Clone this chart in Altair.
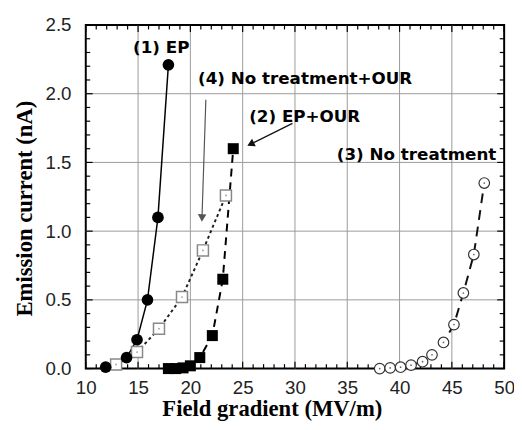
import altair as alt
import pandas as pd

# ---- data ----
ep_x = [11.9, 13.9, 14.9, 15.9, 16.9, 17.9]
ep_y = [0.01, 0.08, 0.21, 0.50, 1.10, 2.21]

epour_x = [17.9, 18.6, 19.3, 20.0, 20.9, 22.1, 23.1, 24.1]
epour_y = [0.0, 0.0, 0.005, 0.02, 0.08, 0.24, 0.65, 1.60]

nt_x = [38.1, 39.1, 40.1, 41.1, 42.2, 43.1, 44.2, 45.2, 46.1, 47.1, 48.1]
nt_y = [0.0, 0.005, 0.01, 0.025, 0.05, 0.10, 0.19, 0.32, 0.55, 0.83, 1.35]

ntour_x = [12.9, 14.9, 17.0, 19.2, 21.2, 23.4]
ntour_y = [0.03, 0.12, 0.29, 0.52, 0.86, 1.26]

x_major = [10, 15, 20, 25, 30, 35, 40, 45, 50]
y_major = [0.0, 0.5, 1.0, 1.5, 2.0, 2.5]
x_grid = [15, 20, 25, 30, 35, 40, 45]
y_grid = [0.5, 1.0, 1.5, 2.0]
x_minor = list(range(10, 51))
y_minor = [i / 10 for i in range(26)]

ann_text = ["(1) EP", "(4) No treatment+OUR", "(2) EP+OUR", "(3) No treatment"]
ann_x = [14.52, 20.73, 25.62, 34.0]
ann_y = [2.33, 2.11, 1.83, 1.555]

# arrows (start -> head) in data units
arr_x = [21.48, 29.76]
arr_y = [1.956, 1.784]
arr_x2 = [21.11, 25.76]
arr_y2 = [1.096, 1.633]
arr_color = ["#555555", "#111111"]
arr_shape = ["triangle-down", "triangle-left"]
arr_angle = [2, 334]

W, H = 425, 349

xscale = alt.Scale(domain=[10, 50], nice=False, zero=False)
yscale = alt.Scale(domain=[0, 2.5], nice=False, zero=False)

xaxis = alt.Axis(
    values=x_major, format="d", ticks=False, tickSize=0, domain=False,
    grid=False,
    labelFont="Liberation Sans", labelFontSize=19, labelColor="#222",
    labelPadding=10, labelFlush=False, labelOverlap=False,
    title="Field gradient (MV/m)", titleFont="Liberation Serif",
    titleFontWeight="bold", titleFontSize=23, titleColor="#000",
    titleX=189, titleY=48, titleAlign="center", titleBaseline="alphabetic",
)
yaxis = alt.Axis(
    values=y_major, format=".1f", ticks=False, tickSize=0, domain=False,
    grid=False,
    labelFont="Liberation Sans", labelFontSize=19, labelColor="#222",
    labelPadding=15, labelFlush=False, labelOverlap=False,
    title="Emission current (nA)", titleFont="Liberation Serif",
    titleFontWeight="bold", titleFontSize=23, titleColor="#000",
    titleX=-55, titleY=186, titleAngle=270, titleAlign="center",
    titleBaseline="alphabetic",
)

X = alt.X("x:Q", scale=xscale, axis=xaxis)
Y = alt.Y("y:Q", scale=yscale, axis=yaxis)

def df(xs, ys):
    return pd.DataFrame({"x": xs, "y": ys})

d_ep = df(ep_x, ep_y)
d_epour = df(epour_x, epour_y)
d_nt = df(nt_x, nt_y)
d_ntour = df(ntour_x, ntour_y)

# grid (thin light lines approximating the dotted grid)
gx = alt.Chart(pd.DataFrame({"x": x_grid})).mark_rule(
    color="#9a9a9a", strokeWidth=1
).encode(x=X, y=alt.value(0), y2=alt.value(H))
gy = alt.Chart(pd.DataFrame({"y": y_grid})).mark_rule(
    color="#9a9a9a", strokeWidth=1
).encode(y=Y, x=alt.value(0), x2=alt.value(W))

# lines
l_ep = alt.Chart(d_ep).mark_line(color="#000", strokeWidth=1.5).encode(x=X, y=Y)
l_ntour = alt.Chart(d_ntour).mark_line(color="#222", strokeWidth=2, strokeDash=[3, 3]).encode(x=X, y=Y)
l_epour = alt.Chart(d_epour).mark_line(color="#000", strokeWidth=2, strokeDash=[8, 6]).encode(x=X, y=Y)
l_nt = alt.Chart(d_nt).mark_line(color="#111", strokeWidth=2, strokeDash=[10, 7]).encode(x=X, y=Y)

# markers
p_ep = alt.Chart(d_ep).mark_point(shape="circle", filled=True, color="#000", size=140, opacity=1).encode(x=X, y=Y)
p_epour = alt.Chart(d_epour).mark_point(shape="square", filled=True, color="#000", size=125, opacity=1).encode(x=X, y=Y)
p_ntour = alt.Chart(d_ntour).mark_point(shape="square", fill="white", stroke="#888", strokeWidth=1.5, size=125, opacity=1, fillOpacity=1).encode(x=X, y=Y)
p_nt = alt.Chart(d_nt).mark_point(shape="circle", fill="white", stroke="#333", strokeWidth=1.2, size=115, opacity=1, fillOpacity=1).encode(x=X, y=Y)
dot_ntour = alt.Chart(d_ntour).mark_point(shape="circle", filled=True, color="#999", size=3, opacity=1).encode(x=X, y=Y)
dot_nt = alt.Chart(d_nt).mark_point(shape="circle", filled=True, color="#666", size=3, opacity=1).encode(x=X, y=Y)

# inward ticks on four sides
tx = pd.DataFrame({"x": x_minor, "major": [v % 5 == 0 for v in x_minor]})
ty = pd.DataFrame({"y": y_minor, "major": [round(v * 10) % 5 == 0 for v in y_minor]})

def xticks(major, length):
    d = tx[tx["major"] == major]
    b = alt.Chart(d).mark_rule(color="#000", strokeWidth=1.2).encode(x=X, y=alt.value(H), y2=alt.value(H - length))
    t = alt.Chart(d).mark_rule(color="#000", strokeWidth=1.2).encode(x=X, y=alt.value(0), y2=alt.value(length))
    return [b, t]

def yticks(major, length):
    d = ty[ty["major"] == major]
    l = alt.Chart(d).mark_rule(color="#000", strokeWidth=1.2).encode(y=Y, x=alt.value(0), x2=alt.value(length))
    r = alt.Chart(d).mark_rule(color="#000", strokeWidth=1.2).encode(y=Y, x=alt.value(W), x2=alt.value(W - length))
    return [l, r]

ticks = xticks(False, 4.5) + xticks(True, 7) + yticks(False, 4.5) + yticks(True, 7)

# annotations
d_ann = pd.DataFrame({"x": ann_x, "y": ann_y, "t": ann_text})
ann = alt.Chart(d_ann).mark_text(
    font="DejaVu Sans", fontWeight="bold", fontSize=17, align="left",
    baseline="middle", color="#000",
).encode(x=X, y=Y, text="t:N")

d_arr = pd.DataFrame({"x": arr_x, "y": arr_y, "x2": arr_x2, "y2": arr_y2,
                      "c": arr_color, "s": arr_shape, "a": arr_angle})
arr_line = alt.Chart(d_arr).mark_rule(strokeWidth=1.2).encode(
    x=X, y=Y, x2="x2:Q", y2="y2:Q", color=alt.Color("c:N", scale=None)
)
d_head = pd.DataFrame({"x": arr_x2, "y": arr_y2, "c": arr_color, "s": arr_shape, "a": arr_angle})
arr_head = alt.Chart(d_head).mark_point(filled=True, size=75, opacity=1).encode(
    x=X, y=Y, color=alt.Color("c:N", scale=None),
    shape=alt.Shape("s:N", scale=None), angle=alt.Angle("a:Q", scale=None),
)

chart = alt.layer(
    gx, gy, *ticks, l_ep, l_ntour, l_epour, l_nt,
    p_nt, dot_nt, p_ntour, dot_ntour, p_epour, p_ep,
    arr_line, arr_head, ann,
).properties(
    width=W, height=H,
    padding={"left": 79, "top": 14, "right": 10, "bottom": 51},
    autosize=alt.AutoSizeParams(type="none"),
    background="white",
).configure_view(stroke="#000", strokeWidth=2)

chart.save("out.html", embed_options={"renderer": "svg", "actions": False})
